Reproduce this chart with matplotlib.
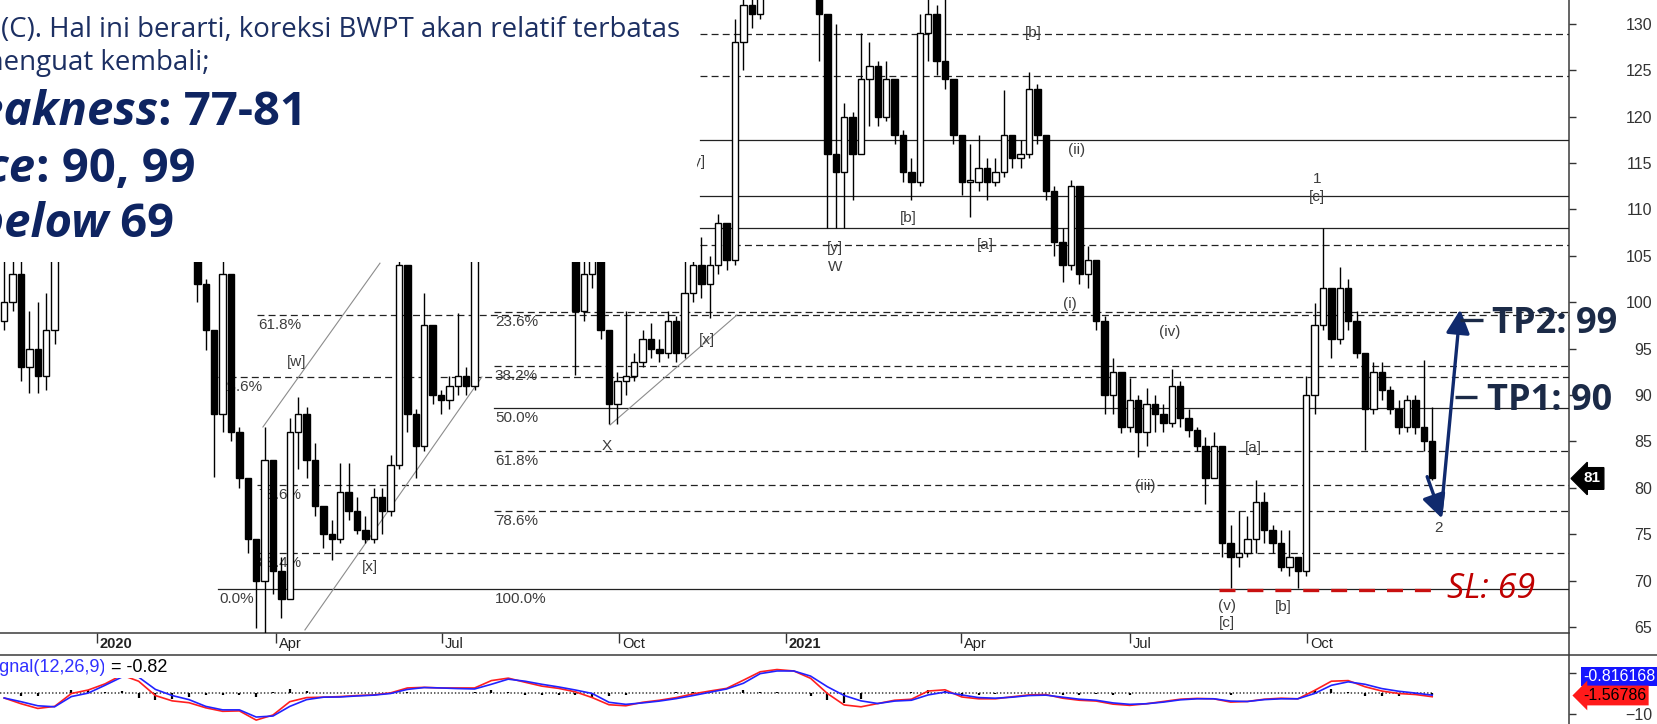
import numpy as np
import matplotlib.pyplot as plt
from matplotlib.patches import Rectangle
from matplotlib.lines import Line2D

plt.rcParams['lines.scale_dashes'] = False
plt.rcParams['font.family'] = ['Liberation Sans', 'DejaVu Sans']

W, H, DPI = 1657, 724, 100

### Price data: one candle every 3 trading days (x = trading day index)
step = 3
first_open = 98
close = [100, 103, 93, 95, 92, 97, 105, 110, 113, 116, 118, 115, 120, 122, 119, 117, 121, 118, 114, 116,
         112, 110, 106, 102, 97, 88, 103, 86, 81, 74.5, 70, 83, 71, 68, 86, 88, 83, 78, 75, 74.5,
         79.5, 77.5, 75.5, 74.5, 79, 77.5, 82.5, 104, 88, 84.5, 97.5, 90, 89.5, 91, 92, 91, 106, 110, 114, 118,
         122, 120, 116, 119, 115, 112, 110, 107, 99, 103, 105, 97, 89, 91.5, 92, 93.5, 96, 95, 94.5, 98,
         94.5, 101, 104, 102, 104, 108.5, 104.5, 128, 132, 131, 137, 140, 143, 139, 141, 137, 135, 131, 116, 114,
         120, 116, 124, 125.5, 120, 124, 118, 114, 113, 129, 131, 126, 124, 118, 113, 113, 114.5, 113, 114, 118,
         115.5, 116, 123, 118, 112, 106.5, 104, 112.5, 103, 104.5, 98, 90, 92.5, 86.5, 89.5, 86, 89, 88, 87, 91,
         87.5, 86.2, 84.5, 81, 84.5, 74, 72.5, 73, 74.5, 78.5, 75.5, 74, 71.5, 72.5, 71, 90, 97.5, 101.5, 96, 101.5,
         98, 94.5, 88.5, 92.5, 90.5, 88.5, 86.5, 89.5, 86.5, 85, 81]
high = [106, 107, 105, 99, 100, 101, 108, 113, 116, 119, 121, 119, 123, 125, 123, 120, 123, 122, 119, 118,
        117, 113, 111, 106, 102.5, 97, 106, 102, 86.5, 80, 74, 86.5, 75, 72.5, 87.5, 89.8, 88.7, 84.8, 78, 76.5,
        82.7, 82.7, 79, 77, 80, 80, 83.5, 106, 104, 88.5, 101, 97.5, 90.5, 92, 98.8, 93, 109, 113, 117, 121,
        125, 124, 121, 122, 120, 116, 113, 111, 110, 108, 110, 104.5, 97, 92.5, 99, 94.5, 97, 97.8, 96, 99,
        98.5, 104.5, 106, 107, 105, 109.5, 108, 130.5, 134, 135, 140, 144, 147, 145, 144, 142, 139, 136, 131, 130,
        121.5, 120.5, 129, 128, 126, 126, 123, 118.5, 115.5, 131, 136, 132, 134, 122.5, 118, 117, 118, 115.5, 115.5, 122.9,
        118, 117.5, 124.8, 123.5, 118, 112.5, 108, 113.2, 110, 106, 104, 98.5, 94, 92.5, 91.8, 90, 90.8, 90, 89, 92.8,
        91.5, 88.5, 86.5, 85.5, 86, 84, 76, 77.5, 77, 80.8, 79.5, 76, 75.5, 75.5, 72.5, 92, 99.9, 108, 100, 103.8,
        102.5, 99, 94.5, 93.5, 93.5, 91, 89.5, 90, 90, 93.8, 88.7]
low = [97, 99, 91.5, 90.2, 90.2, 90.5, 95.5, 105, 108, 111, 114, 112, 114, 118, 116, 114, 116, 115, 112, 111,
       109, 106, 104.5, 100, 94.8, 81.2, 86, 85, 80, 73, 64.9, 63, 68.5, 66, 68, 82, 81, 77, 73.5, 72.2,
       74, 76.5, 75, 74, 74, 75, 77, 82, 86, 81, 84, 89, 88, 88.5, 90, 90, 90.5, 105.5, 109, 113,
       117, 117, 114, 115, 113, 110, 108, 105, 92.2, 98, 101.5, 96, 86.9, 86.9, 90, 91.5, 93, 94, 93.5, 94,
       93.5, 94, 100, 100.5, 98.3, 103, 103.5, 104, 125, 129.5, 130.5, 134, 136, 134, 135, 134, 133, 126, 108, 108,
       108, 111, 117, 119, 119, 119.5, 117, 113, 111, 112.5, 126, 124.5, 123, 117, 111.5, 109.2, 112, 111, 112.5, 113.5,
       114.5, 114.5, 115.5, 117, 111, 105, 102.2, 103.5, 102, 101.5, 97, 88, 88, 85.9, 86, 83.3, 84.5, 86, 86, 86.5,
       86.5, 85.5, 84, 78.3, 81, 72.5, 69.2, 71.5, 72.5, 73, 74, 73, 71, 70.5, 69.2, 70.5, 88, 97, 94, 95.5,
       97, 94, 84.1, 88, 89.5, 88, 85.8, 86, 85.8, 84, 80.8]

### MACD (red) and signal (blue): one point every 6 trading days
macd_step = 6
macd = [-2.2, -5, -7.3, -6.3, 0, 1.7, 4.7, 9, 6, -1, -3.6, -4.5, -7, -8.7, -8.5, -13, -10.5, -4, -2, -1.8,
        -1.5, -1, -0.7, 0.3, 2.7, 3, 2.7, 2.7, 2.7, 6.3, 7.5, 5.5, 3.6, 2.5, 0.8, -2, -5.5, -6, -4.3, -3.3,
        -2, -0.2, 1.2, 2.5, 6.5, 10.6, 11.7, 11, 7.4, 0, -5.6, -6.5, -4.9, -3.3, -2.8, 1.2, 1.8, -1.7, -2.6, -2.6,
        -1.6, -0.7, -0.5, -2.3, -3.3, -3.7, -5.2, -5.8, -5, -3.9, -2.8, -2.4, -2.6, -4.2, -3.9, -2.8, -2.3, -2.6, 1.5, 6,
        6.3, 3.3, 1.2, 0, -0.5, -1.57]
signal = [-2.2, -4, -6, -6.5, -1.5, 0.2, 4, 8, 8, 2, -1, -3, -6.3, -8, -8, -11.5, -11, -6.3, -3, -1.8,
          -1.7, -1.2, -0.8, 0, 2, 2.9, 2.7, 2.4, 2.2, 4.5, 7, 6, 4.5, 3.2, 1.7, 0, -4.3, -5.3, -4.6, -3.7,
          -2.5, -1, 0.6, 2.2, 5, 9.7, 11, 11, 8.5, 3.3, -1, -3.6, -4.9, -3.7, -3.3, -0.7, 0.7, -0.7, -2, -2.3,
          -1.8, -1, -0.8, -1.8, -2.8, -3.3, -4.6, -5.3, -5, -4.2, -3.1, -2.6, -2.6, -3.7, -3.9, -3, -2.6, -2.6, 0, 4,
          5.7, 4.5, 2.4, 1.1, 0.2, -0.82]

### calendar ticks (trading day index)
month_pos = [33, 97, 156.4, 219.6, 279.2, 341.7, 402, 465.3]
month_lbl = ['2020', 'Apr', 'Jul', 'Oct', '2021', 'Apr', 'Jul', 'Oct']
price_ticks = list(range(65, 131, 5))

### horizontal levels: price, first trading day, solid line or dashed
lvl_price = [128.9, 124.4, 117.5, 111.4, 108.0, 106.2, 98.9, 98.6, 93.1, 91.9, 88.6, 84.0, 80.3, 77.5, 73.0, 69.1]
lvl_start = [248.5] * 6 + [174.9, 90.3, 174.9, 76.4, 174.9, 174.9, 90.3, 174.9, 90.3, 76.4]
lvl_solid = [False, False, True, True, True, False, False, False, False, False, True, False, False, False, False, True]

fib_text = ['61.8%', '23.6%', '78.6%', '88.4%', '0.0%', '23.6%', '38.2%', '50.0%', '61.8%', '78.6%', '100.0%']
fib_start = [90.3, 76.4, 90.3, 90.3, 76.4, 174.9, 174.9, 174.9, 174.9, 174.9, 174.9]
fib_level = [98.6, 91.9, 80.3, 73.0, 69.1, 98.9, 93.1, 88.6, 84.0, 77.5, 69.1]

### elliott wave labels
wave_text = ['[w]', '[x]', '[x]', 'X', '[y]', '[y]', 'W', '[b]', '[a]', '[b]', '(ii)', '(i)', '(iv)',
             '(iii)', '[a]', '(v)', '[c]', '[b]', '1', '[c]', '2']
wave_t = [104.6, 130.6, 251, 215.3, 247.6, 296.7, 296.7, 322.8, 350.3, 367.4, 383.1, 380.6, 416.4,
          407.4, 446, 436.7, 436.7, 456.7, 468.9, 468.9, 512.4]
wave_p = [93.6, 71.5, 95.9, 84.5, 115.1, 105.8, 103.8, 109.1, 106.2, 129.0, 116.4, 99.8, 96.8,
          80.2, 84.3, 67.3, 65.4, 67.2, 113.3, 111.3, 75.7]

### channel lines (t0, p0, t1, p1)
channels = [(92.4, 86.55, 134.2, 104.2), (107.4, 64.68, 170.6, 91.94), (216.4, 86.77, 261.7, 98.62)]

### trade plan
last_close = close[-1]
weak_low = 77
tp_levels = [90, 99]
sl_level = 69

navy = '#102a6e'
tp_col = '#1b2a47'
txt_col = '#3d3d3d'


def fx(px):
    return px / W


def fy(py):
    return 1 - py / H


fig = plt.figure(figsize=(W / DPI, H / DPI), dpi=DPI)
ax = fig.add_axes([0, fy(633), fx(1569), 633 / H])
mx = fig.add_axes([0, 0, fx(1569), 69 / H])
for a in (ax, mx):
    a.patch.set_visible(False)
    for s in a.spines.values():
        s.set_visible(False)
    a.set_xlim(-1.5, 1569 / 2.8 - 1.5)

ax.set_ylim(64.35, 132.56)

## candles
t = np.arange(len(close)) * step
c = np.array(close, float)
o = np.array([first_open] + close[:-1], float)
up = c >= o
lo = np.minimum(o, c)
hh = np.maximum(np.abs(c - o), 0.2)
ax.vlines(t, low, high, color='black', lw=1.0, zorder=3)
ax.bar(t[up], hh[up], bottom=lo[up], width=2.3, facecolor='white', edgecolor='black', lw=1.0, zorder=4)
ax.bar(t[~up], hh[~up], bottom=lo[~up], width=2.3, facecolor='black', edgecolor='black', lw=1.0, zorder=4)

## levels
xr = 1569 / 2.8 - 1.5
for p, s, solid in zip(lvl_price, lvl_start, lvl_solid):
    if solid:
        ax.plot([s, xr], [p, p], color='#222222', lw=0.9, zorder=1)
    else:
        ax.plot([s, xr], [p, p], color='#222222', lw=0.9, dashes=(5, 3), zorder=1)

for txt, s, p in zip(fib_text, fib_start, fib_level):
    ax.annotate(txt, xy=(s, p), xytext=(1, -3), textcoords='offset pixels', va='top', ha='left',
                fontsize=11, color=txt_col, zorder=2)

for x0, y0, x1, y1 in channels:
    ax.plot([x0, x1], [y0, y1], color='#8c8c8c', lw=0.8, zorder=2)

for txt, x, p in zip(wave_text, wave_t, wave_p):
    ax.text(x, p, txt, ha='center', va='center', fontsize=11, color=txt_col, zorder=5)

## axes ticks
ax.yaxis.tick_right()
ax.set_yticks(price_ticks)
ax.tick_params(axis='y', direction='out', length=5, width=1, pad=54.7, labelsize=11.5,
               colors='#333333')
for lb in ax.get_yticklabels():
    lb.set_horizontalalignment('right')
ax.set_xticks(month_pos)
ax.set_xticklabels([])
ax.tick_params(axis='x', direction='out', length=7, width=1, colors='#333333')
for pos, lb in zip(month_pos, month_lbl):
    ax.annotate(lb, xy=(pos, 0), xycoords=('data', 'axes fraction'), xytext=(3, -11),
                textcoords='offset pixels', ha='left', va='center', fontsize=10.5, color='#222222',
                fontweight='bold' if lb.isdigit() else 'normal', annotation_clip=False)

## trade plan marks
sl_t0, sl_t1 = 433.9, 509.9
ax.plot([sl_t0, sl_t1], [sl_level, sl_level], color='#c81010', lw=2.4, dashes=(11.5, 8.6),
        solid_capstyle='butt', zorder=6)
ax.text(515.3, sl_level - 0.9, 'SL: 69', color='#c00000', fontsize=24.5, family='Open Sans',
        style='italic', ha='left', va='baseline', clip_on=False, zorder=7)

aprops = dict(arrowstyle='-|>,head_length=0.8,head_width=0.4', color=navy, lw=2.4,
              mutation_scale=18, shrinkA=0, shrinkB=0)
ax.annotate('', xy=(513.5, weak_low - 0.3), xytext=(508.2, last_close + 0.2), arrowprops=aprops, zorder=7)
ax.annotate('', xy=(520, tp_levels[1] + 0.2), xytext=(513.2, weak_low + 0.3), arrowprops=aprops, zorder=7)

tp_y = [tp_levels[0] - 0.2, tp_levels[1] - 0.9]
tp_x = [(518.1, 526.0), (519.9, 528.1)]
for i, (lvl, yy, (a0, a1)) in enumerate(zip(tp_levels, tp_y, tp_x)):
    ax.plot([a0, a1], [yy, yy], color=tp_col, lw=2.4, solid_capstyle='butt', zorder=7)
    ax.text(a1 + 3.4, yy - 1.4, 'TP%d: %d' % (i + 1, lvl), color=tp_col,
            fontsize=26, family='Open Sans', fontweight='bold', ha='left', va='baseline',
            clip_on=False, zorder=8)

ax.annotate('%d' % last_close, xy=(1, last_close), xycoords=('axes fraction', 'data'),
            xytext=(14, 0), textcoords='offset pixels', ha='left', va='center', fontsize=11,
            color='white', fontweight='bold', annotation_clip=False,
            bbox=dict(boxstyle='larrow,pad=0.25', fc='black', ec='black'), zorder=8)

## MACD panel
tm = np.arange(len(macd)) * macd_step
mx.set_ylim(-14.9, 18.8)
hist = np.array(macd) - np.array(signal)
mx.plot([-1.5, tm[-1]], [0, 0], color='#444444', lw=1.2, dashes=(1, 1.5))
mx.vlines(tm, 0, hist, color='black', lw=1.6)
mx.plot(tm, macd, color='#ff1f1f', lw=1.2)
mx.plot(tm, signal, color='#2222ff', lw=1.2)
mx.yaxis.tick_right()
mx.set_yticks([-10, 10])
mx.set_xticks([])
mx.tick_params(axis='y', direction='out', length=5, width=1, pad=54.7, labelsize=11.5, colors='#333333')
for lb in mx.get_yticklabels():
    lb.set_horizontalalignment('right')

fig.text(fx(106), fy(672), 'Signal(12,26,9)', color='#3030ff', fontsize=13, ha='right', va='baseline')
fig.text(fx(106), fy(672), ' = -0.82', color='black', fontsize=13, ha='left', va='baseline',
         bbox=dict(boxstyle='square,pad=0.1', fc='white', ec='none'))
fig.text(fx(1583), fy(676.5), '-0.816168', color='white', fontsize=11.5, ha='left', va='center',
         bbox=dict(boxstyle='square,pad=0.15', fc='#1515ff', ec='none'), zorder=8)
fig.text(fx(1583), fy(695.5), '-1.56786', color='black', fontsize=11.5, ha='left', va='center',
         bbox=dict(boxstyle='larrow,pad=0.15', fc='#ff1a1a', ec='none'), zorder=8)

## frame lines
frame = dict(color='#3a3a3a', lw=1.1, zorder=-1)
fig.add_artist(Line2D([fx(1569), fx(1569)], [0, 1], **frame))
fig.add_artist(Line2D([0, fx(1569)], [fy(633), fy(633)], **frame))
fig.add_artist(Line2D([0, 1], [fy(655), fy(655)], **frame))

## text overlay (cut from a report page)
fig.add_artist(Rectangle((0, fy(262)), fx(697), 262 / H, transform=fig.transFigure,
                         facecolor='white', edgecolor='none', zorder=10))
reg = '#1c2f62'
bold = '#0e2461'
l2 = fig.text(fx(1), fy(37), '(C). Hal ini berarti, koreksi BWPT akan relatif terbatas', color=reg,
              fontsize=18, family='Open Sans', ha='left', va='baseline', zorder=11)
r = fig.canvas.get_renderer()
fs = 18 * 678 / l2.get_window_extent(renderer=r).width
l2.set_fontsize(fs)
fig.text(fx(210), fy(70), 'menguat kembali;', color=reg, fontsize=fs, family='Open Sans',
         ha='right', va='baseline', zorder=11)

big = [('Buy on weakness', ': 77-81', 158, 125), ('Resistance', ': 90, 99', 36, 182),
       ('Stop loss below', ' 69', 108, 237)]
for lab, val, xc, base in big:
    fig.text(fx(xc), fy(base), lab, color=bold, fontsize=34, family='Open Sans', fontweight='bold',
             style='italic', ha='right', va='baseline', zorder=11)
    fig.text(fx(xc), fy(base), val, color=bold, fontsize=34, family='Open Sans', fontweight='bold',
             ha='left', va='baseline', zorder=11)

fig.savefig('out.png', dpi=DPI)
